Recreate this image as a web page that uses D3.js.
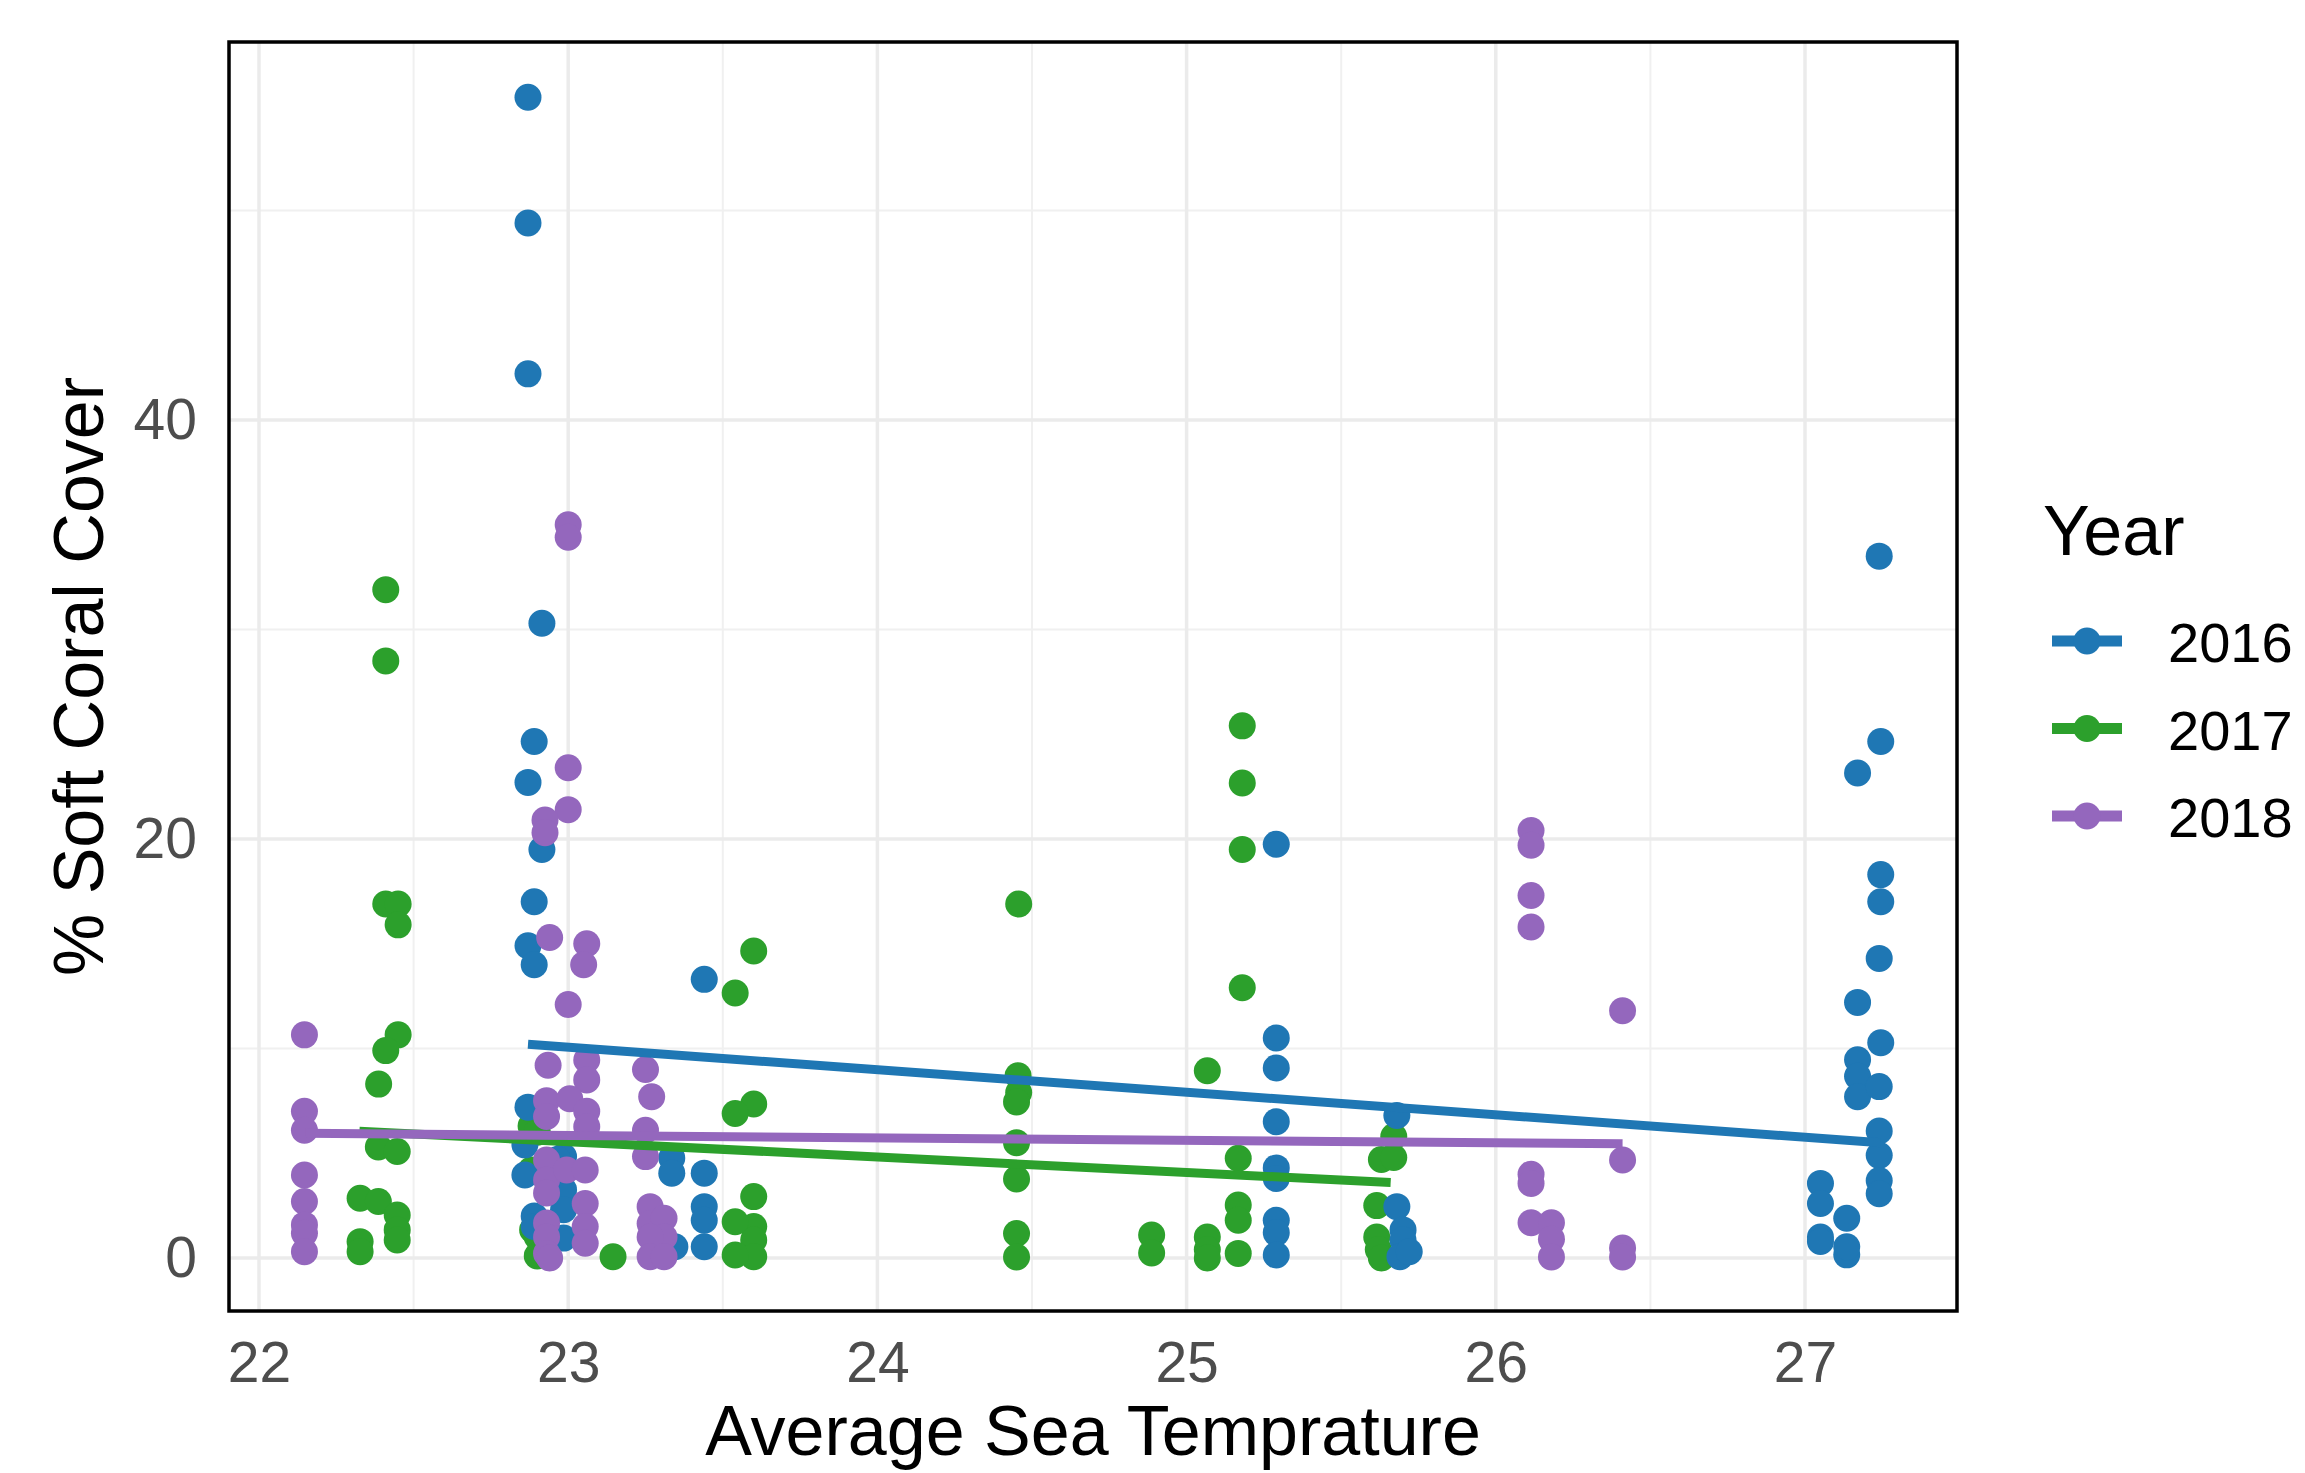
<!DOCTYPE html>
<html>
<head>
<meta charset="utf-8">
<script src="https://cdn.jsdelivr.net/npm/d3@7/dist/d3.min.js"></script>
<style>
    body { margin: 0; background: #fff; }
    text { font-family: "Liberation Sans", Arial, Helvetica, sans-serif; }
</style>
</head>
<body>
<div class="scatter-content"></div>
<script>
// sea temperature vs soft coral cover, one list per survey year: [temp, cover]
let pts2016 = [
    [22.87, 55.4], [22.87, 49.4], [22.87, 42.2], [22.915, 30.3], [22.89, 24.65], [22.87, 22.7],
    [22.915, 19.5], [22.89, 17.0], [22.87, 14.9], [22.89, 14.0], [22.87, 7.2], [22.86, 5.4],
    [22.86, 3.96], [22.985, 4.84], [22.965, 4.7], [22.985, 3.25], [22.89, 2.0], [22.89, 1.5],
    [22.985, 2.3], [22.985, 0.95],
    [23.44, 13.3], [23.335, 4.77], [23.335, 4.05], [23.44, 4.05], [23.44, 2.45], [23.44, 1.8],
    [23.44, 0.54], [23.345, 0.54],
    [25.29, 19.75], [25.29, 10.5], [25.29, 9.07], [25.29, 6.5], [25.29, 4.3], [25.29, 3.8],
    [25.29, 1.8], [25.29, 1.2], [25.29, 0.14],
    [25.68, 6.8], [25.68, 2.45], [25.7, 1.34], [25.7, 0.86], [25.69, 0.06], [25.72, 0.3],
    [27.24, 33.5], [27.245, 24.65], [27.17, 23.15], [27.245, 18.3], [27.245, 17.0], [27.24, 14.3],
    [27.17, 12.2], [27.245, 10.27], [27.17, 9.46], [27.17, 8.67], [27.17, 7.7], [27.24, 8.18],
    [27.24, 6.06], [27.24, 4.9], [27.24, 3.7], [27.24, 3.07], [27.05, 3.56], [27.05, 2.6],
    [27.05, 1.0], [27.05, 0.79], [27.135, 1.9], [27.135, 0.15], [27.135, 0.54]
];
let pts2017 = [
    [22.41, 31.9], [22.41, 28.5], [22.41, 16.9], [22.45, 16.9], [22.45, 15.9], [22.45, 10.65],
    [22.41, 9.9], [22.387, 8.3], [22.386, 5.3], [22.447, 5.08], [22.327, 2.85], [22.386, 2.7],
    [22.447, 2.05], [22.447, 1.34], [22.447, 0.86], [22.327, 0.78], [22.327, 0.3],
    [22.88, 6.3], [22.9, 6.0], [22.88, 4.2], [22.885, 1.34], [22.9, 1.0], [22.91, 0.22], [22.9, 0.1],
    [23.145, 0.06],
    [23.6, 14.65], [23.54, 12.65], [23.6, 7.35], [23.54, 6.9], [23.6, 2.93], [23.6, 1.5],
    [23.6, 0.86], [23.6, 0.06], [23.54, 1.73], [23.54, 0.14],
    [24.457, 16.9], [24.455, 8.7], [24.457, 7.9], [24.45, 7.45], [24.45, 5.5], [24.45, 3.77],
    [24.45, 1.17], [24.45, 0.05],
    [24.887, 1.1], [24.887, 0.24],
    [25.067, 8.94], [25.067, 1.0], [25.067, 0.4], [25.067, 0.0],
    [25.18, 25.4], [25.18, 22.67], [25.18, 19.5], [25.18, 12.9], [25.167, 4.76], [25.167, 2.53],
    [25.167, 1.8], [25.167, 0.22],
    [25.67, 5.8], [25.63, 4.7], [25.67, 4.8], [25.615, 2.5], [25.615, 1.0], [25.62, 0.4], [25.63, 0.0]
];
let pts2018 = [
    [22.147, 10.65], [22.147, 7.0], [22.147, 6.1], [22.147, 3.96], [22.147, 2.7], [22.147, 1.58],
    [22.147, 1.18], [22.147, 0.3],
    [23.0, 35.0], [23.0, 34.4], [23.0, 23.4], [23.0, 21.4], [22.925, 20.9], [22.925, 20.3],
    [22.94, 15.3], [23.06, 15.0], [23.05, 14.0], [23.0, 12.1], [22.935, 9.2], [23.06, 9.45],
    [23.06, 8.5], [22.93, 7.5], [23.005, 7.6], [23.06, 7.0], [22.93, 6.75], [23.06, 6.27],
    [22.93, 4.68], [22.93, 3.72], [22.93, 3.1], [22.995, 4.2], [23.055, 4.2], [23.055, 2.6],
    [23.055, 1.5], [23.055, 0.7], [22.93, 1.67], [22.93, 1.0], [22.93, 0.22], [22.94, 0.0],
    [23.25, 9.0], [23.27, 7.7], [23.25, 6.1], [23.25, 4.84], [23.265, 2.45], [23.265, 1.65],
    [23.31, 1.9], [23.31, 1.0], [23.265, 1.0], [23.265, 0.06], [23.31, 0.06],
    [26.114, 20.4], [26.114, 19.7], [26.114, 17.3], [26.114, 15.8], [26.114, 4.0], [26.114, 3.56],
    [26.114, 1.68], [26.18, 1.68], [26.18, 0.9], [26.18, 0.05],
    [26.41, 11.8], [26.41, 4.68], [26.41, 0.48], [26.41, 0.05]
];

// fitted lm lines (start / end)
let fit2016 = [[22.87, 10.2], [27.245, 5.5]];
let fit2017 = [[22.325, 6.05], [25.66, 3.6]];
let fit2018 = [[22.15, 5.95], [26.41, 5.45]];

let years = ['2016', '2017', '2018'];
let colors = ['#1f77b4', '#2ca02c', '#9467bd'];
let xTicks = [22, 23, 24, 25, 26, 27];
let xMinor = [22.5, 23.5, 24.5, 25.5, 26.5];
let yTicks = [0, 20, 40];
let yMinor = [10, 30, 50];

renderChart();

function renderChart() {
    let w = 2305;
    let h = 1473;
    let left = 229, right = 1957, top = 42, bottom = 1311;
    let r = 13.5;

    let svg = d3.select('.scatter-content')
        .append('svg')
        .attr('width', w)
        .attr('height', h);

    let x = d3.scaleLinear().domain([21.903, 27.4916]).range([left, right]);
    let y = d3.scaleLinear().domain([-2.53, 58.04]).range([bottom, top]);
    let color = d3.scaleOrdinal().domain(years).range(colors);

    // grid
    let grid = svg.append('g').attr('class', 'grid');
    grid.selectAll('.vminor').data(xMinor.filter(function(d) {return x(d) < right;})).enter()
        .append('line')
        .attr('x1', x).attr('x2', x).attr('y1', top).attr('y2', bottom)
        .attr('stroke', '#f0f0f0').attr('stroke-width', 2);
    grid.selectAll('.hminor').data(yMinor).enter()
        .append('line')
        .attr('y1', y).attr('y2', y).attr('x1', left).attr('x2', right)
        .attr('stroke', '#f0f0f0').attr('stroke-width', 2);
    grid.selectAll('.vmajor').data(xTicks).enter()
        .append('line')
        .attr('x1', x).attr('x2', x).attr('y1', top).attr('y2', bottom)
        .attr('stroke', '#ebebeb').attr('stroke-width', 3.5);
    grid.selectAll('.hmajor').data(yTicks).enter()
        .append('line')
        .attr('y1', y).attr('y2', y).attr('x1', left).attr('x2', right)
        .attr('stroke', '#ebebeb').attr('stroke-width', 3.5);

    // points: 2017 below, then 2016, then 2018
    let groups = [
        {year: '2017', pts: pts2017},
        {year: '2016', pts: pts2016},
        {year: '2018', pts: pts2018}
    ];
    groups.forEach(function(g) {
        svg.append('g')
            .selectAll('circle')
            .data(g.pts)
            .enter()
            .append('circle')
            .attr('cx', function(d) {return x(d[0]);})
            .attr('cy', function(d) {return y(d[1]);})
            .attr('r', r)
            .attr('fill', color(g.year));
    });

    // regression lines
    let line = d3.line().x(function(d) {return x(d[0]);}).y(function(d) {return y(d[1]);});
    [fit2016, fit2017, fit2018].forEach(function(f, i) {
        svg.append('path')
            .attr('d', line(f))
            .attr('fill', 'none')
            .attr('stroke', colors[i])
            .attr('stroke-width', 9);
    });

    // panel border
    svg.append('rect')
        .attr('x', left).attr('y', top)
        .attr('width', right - left).attr('height', bottom - top)
        .attr('fill', 'none').attr('stroke', '#000').attr('stroke-width', 3.5);

    // axes (labels only, no ticks)
    let xAxis = d3.axisBottom(x).tickValues(xTicks).tickFormat(d3.format('d')).tickSize(0).tickPadding(31);
    let yAxis = d3.axisLeft(y).tickValues(yTicks).tickFormat(d3.format('d')).tickSize(0).tickPadding(32);
    let gx = svg.append('g').attr('transform', 'translate(0,' + bottom + ')').call(xAxis);
    let gy = svg.append('g').attr('transform', 'translate(' + left + ',0)').call(yAxis);
    [gx, gy].forEach(function(g) {
        g.select('.domain').remove();
        g.selectAll('text')
            .attr('fill', '#4d4d4d')
            .style('font-size', '57px')
            .style('font-family', '"Liberation Sans", Arial, sans-serif');
    });

    // titles
    svg.append('text')
        .attr('x', (left + right) / 2)
        .attr('y', 1455)
        .attr('text-anchor', 'middle')
        .attr('font-size', '70px')
        .text('Average Sea Temprature');
    svg.append('text')
        .attr('transform', 'translate(103,' + (top + bottom) / 2 + ') rotate(-90)')
        .attr('text-anchor', 'middle')
        .attr('font-size', '70px')
        .text('% Soft Coral Cover');

    // legend
    let legend = svg.append('g');
    legend.append('text')
        .attr('x', 2043).attr('y', 555)
        .attr('font-size', '70px')
        .text('Year');
    let rows = legend.selectAll('.key').data(years).enter()
        .append('g')
        .attr('transform', function(d, i) {return 'translate(0,' + (641 + i * 87.5) + ')';});
    rows.append('line')
        .attr('x1', 2052).attr('x2', 2122)
        .attr('stroke', function(d) {return color(d);})
        .attr('stroke-width', 11);
    rows.append('circle')
        .attr('cx', 2087).attr('r', r)
        .attr('fill', function(d) {return color(d);});
    rows.append('text')
        .attr('x', 2168).attr('y', 21)
        .attr('font-size', '56px')
        .text(function(d) {return d;});
}
</script>
</body>
</html>
